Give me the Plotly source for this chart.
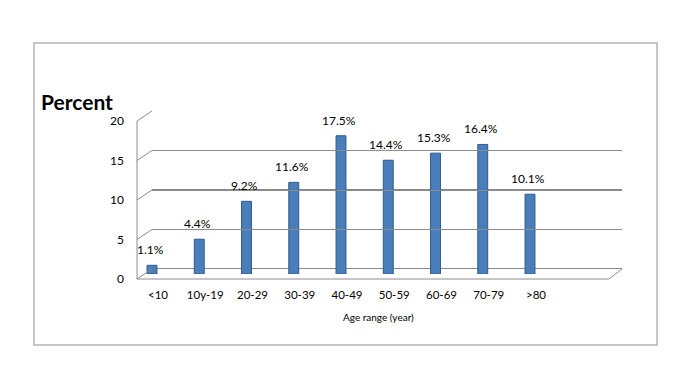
import plotly.graph_objects as go

# ---- data ----
categories = ["<10", "10y-19", "20-29", "30-39", "40-49", "50-59", "60-69", "70-79", ">80"]
percent = [1.1, 4.4, 9.2, 11.6, 17.5, 14.4, 15.3, 16.4, 10.1]
y_ticks = [0, 5, 10, 15, 20]

# ---- geometry (window pixels) ----
WIN_W, WIN_H, BODY = 698, 384, 8
W, H = WIN_W - 2 * BODY, WIN_H - 2 * BODY
FRONT_L, FRONT_R = 137, 609      # front edge of the floor
BACK_L, BACK_R = 152, 622        # back wall
BAR0_PX, SLOT_PX = 152, 47.25    # first bar centre, spacing
BACK_Y0, BACK_Y20 = 269, 111     # back-wall y for 0 and 20
BAR_Y0, BAR_Y20 = 274, 116       # bar baseline / 20 for bars
DEPTH_DY = 10

px = lambda x: (x - BODY) / W
py = lambda y: 1 - (y - BODY) / H

r0 = -(BAR0_PX - FRONT_L) / SLOT_PX
r1 = (FRONT_R - BAR0_PX) / SLOT_PX

x_idx = list(range(len(categories)))

fig = go.Figure()
fig.add_trace(go.Bar(
    x=x_idx, y=percent,
    width=0.21,
    marker=dict(color="#4a7ebb", line=dict(color="#2f5a8c", width=1)),
    cliponaxis=False, xaxis="x", yaxis="y", showlegend=False,
))
fig.add_trace(go.Scatter(x=[0, 1], y=[0, 0], mode="markers", marker=dict(opacity=0),
                         xaxis="x2", yaxis="y2", showlegend=False, hoverinfo="skip"))

def yb(v):
    return BACK_Y0 - (BACK_Y0 - BACK_Y20) * v / 20

line_col = "#8c8c8c"
shapes = []
for v in y_ticks:
    shapes.append(dict(type="line", xref="paper", yref="paper",
                       x0=px(FRONT_L), y0=py(yb(v) + DEPTH_DY), x1=px(BACK_L), y1=py(yb(v)),
                       line=dict(color=line_col, width=1)))
shapes.append(dict(type="line", xref="paper", yref="paper",
                   x0=px(FRONT_L), y0=py(yb(20) + DEPTH_DY), x1=px(FRONT_L), y1=py(yb(0) + DEPTH_DY),
                   line=dict(color=line_col, width=1)))
shapes.append(dict(type="line", xref="paper", yref="paper",
                   x0=px(FRONT_L), y0=py(yb(0) + DEPTH_DY), x1=px(FRONT_R), y1=py(yb(0) + DEPTH_DY),
                   line=dict(color=line_col, width=1)))
shapes.append(dict(type="line", xref="paper", yref="paper",
                   x0=px(FRONT_R), y0=py(yb(0) + DEPTH_DY), x1=px(BACK_R), y1=py(yb(0)),
                   line=dict(color=line_col, width=1)))
for v in (0, 10):
    shapes.append(dict(type="line", xref="x2 domain", yref="y2",
                       x0=0, x1=1, y0=v, y1=v, layer="below",
                       line=dict(color="#8a8a8a", width=2)))
shapes.append(dict(type="rect", xref="paper", yref="paper",
                   x0=px(34), y0=py(345), x1=px(657), y1=py(43),
                   line=dict(color="#b4b4b4", width=1.5)))

annotations = [
    dict(text=f"{v:.1f}%", x=i, y=v, xref="x", yref="y",
         xanchor="center", yanchor="bottom", yshift=6, xshift=-2, showarrow=False,
         font=dict(family="Lato", size=12, color="#000"))
    for i, v in zip(x_idx, percent)
]
annotations += [
    dict(text="<b>Percent</b>", xref="paper", yref="paper", x=px(39), y=py(101),
         xanchor="left", yanchor="middle", showarrow=False,
         font=dict(family="Lato", size=21, color="#000")),
    dict(text="Age range (year)", xref="paper", yref="paper", x=px(378), y=py(317),
         xanchor="center", yanchor="middle", showarrow=False,
         font=dict(family="Liberation Sans Narrow, Lato", size=10, color="#000")),
]

fig.update_layout(
    width=W, height=H,
    margin=dict(l=0, r=0, t=0, b=0, autoexpand=False),
    paper_bgcolor="white", plot_bgcolor="rgba(0,0,0,0)",
    font=dict(family="Lato", color="#000"),
    xaxis=dict(domain=[px(FRONT_L), px(FRONT_R)], range=[r0, r1],
               tickvals=x_idx, ticktext=categories,
               ticklabelshift=6, ticklabelstandoff=12, automargin=False,
               tickfont=dict(family="Lato", size=11.5),
               showgrid=False, zeroline=False, showline=False, ticks="",
               anchor="y"),
    yaxis=dict(domain=[py(BAR_Y0), py(BAR_Y20)], range=[0, 20],
               tickvals=y_ticks, ticklabelshift=5, ticklabelstandoff=12, automargin=False,
               tickfont=dict(family="Lato", size=12),
               showgrid=False, zeroline=False, showline=False, ticks="",
               anchor="x"),
    xaxis2=dict(domain=[px(BACK_L), px(BACK_R)], range=[0, 1], visible=False,
                anchor="y2", automargin=False),
    yaxis2=dict(domain=[py(BACK_Y0), py(BACK_Y20)], range=[0, 20], tickvals=y_ticks,
                showgrid=True, gridcolor=line_col, gridwidth=1, showticklabels=False,
                zeroline=False, showline=False, ticks="", anchor="x2", automargin=False),
    shapes=shapes,
    annotations=annotations,
)

fig.write_html("out.html")
